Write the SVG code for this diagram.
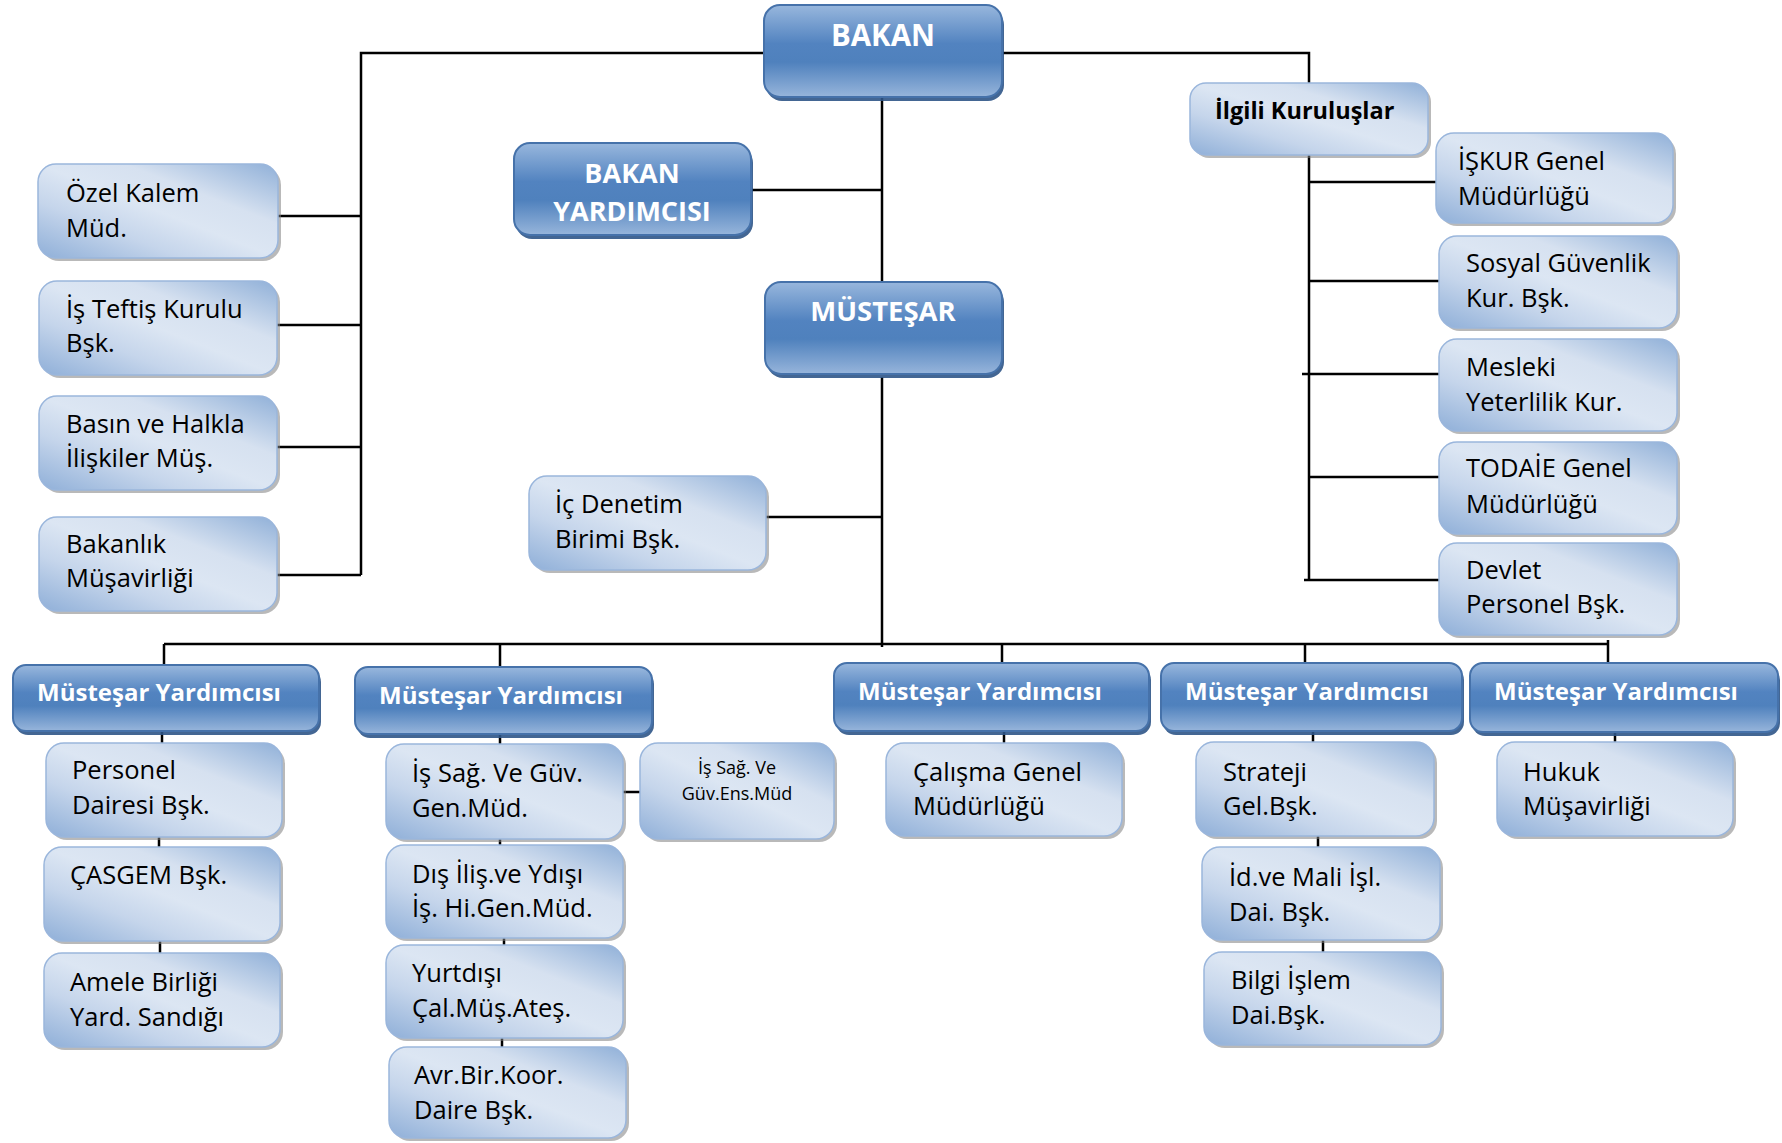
<svg xmlns="http://www.w3.org/2000/svg" width="1782" height="1143" viewBox="0 0 1782 1143">
<defs>
<linearGradient id="gl" x1="0" y1="1" x2="1" y2="0">
<stop offset="0" stop-color="#8fafd8"/>
<stop offset="0.3" stop-color="#c5d5eb"/>
<stop offset="0.5" stop-color="#dce6f3"/>
<stop offset="0.68" stop-color="#d6e1f0"/>
<stop offset="1" stop-color="#90b0d8"/>
</linearGradient>
<linearGradient id="gd" x1="0" y1="0" x2="0" y2="1">
<stop offset="0" stop-color="#98b7dd"/>
<stop offset="0.42" stop-color="#5283c0"/>
<stop offset="0.62" stop-color="#4f81bd"/>
<stop offset="1" stop-color="#97b5db"/>
</linearGradient>
<style>
.lb{fill:url(#gl);stroke:#9ab6dc;stroke-width:1.5}
.db{fill:url(#gd);stroke:#4672aa;stroke-width:2}
.sh{fill:#7f7f7f;opacity:.55}
.dsh{fill:#2f5587;opacity:.9}
.t{font-family:"Open Sans","DejaVu Sans",sans-serif;font-size:25.5px;fill:#000}
.ts{font-family:"Open Sans","DejaVu Sans",sans-serif;font-size:18px;fill:#000;text-anchor:middle}
.tb{font-family:"Open Sans","DejaVu Sans",sans-serif;font-size:23.5px;font-weight:bold;fill:#000}
.tw{font-family:"Open Sans","DejaVu Sans",sans-serif;font-weight:bold;fill:#fff;text-anchor:middle}
.c{stroke:#000;stroke-width:2.5;fill:none}
</style>
</defs>
<rect width="1782" height="1143" fill="#fff"/>
<g id="connectors" class="c">
<path d="M764,53 H361 V575"/>
<path d="M278,216 H361 M277,325 H361 M277,447 H361 M277,575 H361"/>
<path d="M1002,53 H1309 V83"/>
<path d="M1309,155 V580"/>
<path d="M1309,182 H1436 M1309,281 H1439 M1302,374 H1439 M1309,477 H1439 M1304,580 H1439"/>
<path d="M882,97 V282 M751,190 H882"/>
<path d="M882,377 V647 M766,517 H882"/>
<path d="M164,644 H1608"/>
<path d="M164,644 V665 M500,644 V667 M1002,644 V663 M1305,644 V663 M1608,640 V663"/>
<path d="M162,731 V743 M159,837 V847 M160,941 V953"/>
<path d="M500,734 V744 M623,792 H640 M500,839 V845 M504,938 V945 M502,1038 V1047"/>
<path d="M1004,731 V743"/>
<path d="M1313,731 V742 M1318,836 V847 M1323,940 V952"/>
<path d="M1615,732 V742"/>
</g>

<g id="bakan"><rect class="dsh" x="766" y="9" width="238" height="92" rx="16"/><rect class="db" x="764" y="5" width="238" height="92" rx="16"/><text class="tw" x="883" y="46" font-size="29.5">BAKAN</text></g>
<g id="bakan-yardimcisi"><rect class="dsh" x="516" y="147" width="237" height="92" rx="16"/><rect class="db" x="514" y="143" width="237" height="92" rx="16"/><text class="tw" x="632" y="183" font-size="27">BAKAN</text><text class="tw" x="632" y="221" font-size="27">YARDIMCISI</text></g>
<g id="mustesar"><rect class="dsh" x="767" y="286" width="237" height="92" rx="16"/><rect class="db" x="765" y="282" width="237" height="92" rx="16"/><text class="tw" x="883" y="321" font-size="27.5">MÜSTEŞAR</text></g>

<g id="my1"><rect class="dsh" x="15" y="669" width="306" height="66" rx="13"/><rect class="db" x="13" y="665" width="306" height="66" rx="13"/><text class="tw" x="159" y="701" font-size="24">Müsteşar Yardımcısı</text></g>
<g id="my2"><rect class="dsh" x="357" y="671" width="297" height="67" rx="13"/><rect class="db" x="355" y="667" width="297" height="67" rx="13"/><text class="tw" x="501" y="704" font-size="24">Müsteşar Yardımcısı</text></g>
<g id="my3"><rect class="dsh" x="836" y="667" width="315" height="68" rx="13"/><rect class="db" x="834" y="663" width="315" height="68" rx="13"/><text class="tw" x="980" y="700" font-size="24">Müsteşar Yardımcısı</text></g>
<g id="my4"><rect class="dsh" x="1163" y="667" width="301" height="68" rx="13"/><rect class="db" x="1161" y="663" width="301" height="68" rx="13"/><text class="tw" x="1307" y="700" font-size="24">Müsteşar Yardımcısı</text></g>
<g id="my5"><rect class="dsh" x="1472" y="667" width="308" height="69" rx="13"/><rect class="db" x="1470" y="663" width="308" height="69" rx="13"/><text class="tw" x="1616" y="700" font-size="24">Müsteşar Yardımcısı</text></g>

<g id="ozel-kalem"><rect class="sh" x="41" y="167" width="240" height="94" rx="18"/><rect class="lb" x="38" y="164" width="240" height="94" rx="18"/><text class="t" x="66" y="202">Özel Kalem</text><text class="t" x="66" y="237">Müd.</text></g>
<g id="is-teftis"><rect class="sh" x="42" y="284" width="238" height="94" rx="18"/><rect class="lb" x="39" y="281" width="238" height="94" rx="18"/><text class="t" x="66" y="318">İş Teftiş Kurulu</text><text class="t" x="66" y="352">Bşk.</text></g>
<g id="basin"><rect class="sh" x="42" y="399" width="238" height="94" rx="18"/><rect class="lb" x="39" y="396" width="238" height="94" rx="18"/><text class="t" x="66" y="433">Basın ve Halkla</text><text class="t" x="66" y="467">İlişkiler Müş.</text></g>
<g id="bakanlik-musavirligi"><rect class="sh" x="42" y="520" width="238" height="94" rx="18"/><rect class="lb" x="39" y="517" width="238" height="94" rx="18"/><text class="t" x="66" y="553">Bakanlık</text><text class="t" x="66" y="587">Müşavirliği</text></g>
<g id="ic-denetim"><rect class="sh" x="532" y="479" width="237" height="94" rx="18"/><rect class="lb" x="529" y="476" width="237" height="94" rx="18"/><text class="t" x="555" y="513">İç Denetim</text><text class="t" x="555" y="548">Birimi Bşk.</text></g>

<g id="ilgili-kuruluslar"><rect class="sh" x="1193" y="86" width="238" height="72" rx="16"/><rect class="lb" x="1190" y="83" width="238" height="72" rx="16"/><text class="tb" x="1215" y="119">İlgili Kuruluşlar</text></g>
<g id="iskur"><rect class="sh" x="1439" y="136" width="237" height="90" rx="18"/><rect class="lb" x="1436" y="133" width="237" height="90" rx="18"/><text class="t" x="1458" y="170">İŞKUR Genel</text><text class="t" x="1458" y="205">Müdürlüğü</text></g>
<g id="sgk"><rect class="sh" x="1442" y="239" width="238" height="92" rx="18"/><rect class="lb" x="1439" y="236" width="238" height="92" rx="18"/><text class="t" x="1466" y="272">Sosyal Güvenlik</text><text class="t" x="1466" y="307">Kur. Bşk.</text></g>
<g id="myk"><rect class="sh" x="1442" y="342" width="238" height="92" rx="18"/><rect class="lb" x="1439" y="339" width="238" height="92" rx="18"/><text class="t" x="1466" y="376">Mesleki</text><text class="t" x="1466" y="411">Yeterlilik Kur.</text></g>
<g id="todaie"><rect class="sh" x="1442" y="445" width="238" height="92" rx="18"/><rect class="lb" x="1439" y="442" width="238" height="92" rx="18"/><text class="t" x="1466" y="477">TODAİE Genel</text><text class="t" x="1466" y="513">Müdürlüğü</text></g>
<g id="dpb"><rect class="sh" x="1442" y="546" width="238" height="92" rx="18"/><rect class="lb" x="1439" y="543" width="238" height="92" rx="18"/><text class="t" x="1466" y="579">Devlet</text><text class="t" x="1466" y="613">Personel Bşk.</text></g>

<g id="personel"><rect class="sh" x="49" y="746" width="236" height="94" rx="18"/><rect class="lb" x="46" y="743" width="236" height="94" rx="18"/><text class="t" x="72" y="779">Personel</text><text class="t" x="72" y="814">Dairesi Bşk.</text></g>
<g id="casgem"><rect class="sh" x="47" y="850" width="236" height="94" rx="18"/><rect class="lb" x="44" y="847" width="236" height="94" rx="18"/><text class="t" x="70" y="884">ÇASGEM Bşk.</text></g>
<g id="amele"><rect class="sh" x="47" y="956" width="236" height="94" rx="18"/><rect class="lb" x="44" y="953" width="236" height="94" rx="18"/><text class="t" x="70" y="991">Amele Birliği</text><text class="t" x="70" y="1026">Yard. Sandığı</text></g>

<g id="isgm"><rect class="sh" x="389" y="747" width="237" height="95" rx="18"/><rect class="lb" x="386" y="744" width="237" height="95" rx="18"/><text class="t" x="412" y="782">İş Sağ. Ve Güv.</text><text class="t" x="412" y="817">Gen.Müd.</text></g>
<g id="isg-ens"><rect class="sh" x="643" y="746" width="194" height="96" rx="18"/><rect class="lb" x="640" y="743" width="194" height="96" rx="18"/><text class="ts" x="737" y="774">İş Sağ. Ve</text><text class="ts" x="737" y="800">Güv.Ens.Müd</text></g>
<g id="dis-iliskiler"><rect class="sh" x="389" y="848" width="237" height="93" rx="18"/><rect class="lb" x="386" y="845" width="237" height="93" rx="18"/><text class="t" x="412" y="883">Dış İliş.ve Ydışı</text><text class="t" x="412" y="917">İş. Hi.Gen.Müd.</text></g>
<g id="yurtdisi"><rect class="sh" x="389" y="948" width="237" height="93" rx="18"/><rect class="lb" x="386" y="945" width="237" height="93" rx="18"/><text class="t" x="412" y="982">Yurtdışı</text><text class="t" x="412" y="1017">Çal.Müş.Ateş.</text></g>
<g id="avrupa-birligi"><rect class="sh" x="392" y="1050" width="237" height="91" rx="18"/><rect class="lb" x="389" y="1047" width="237" height="91" rx="18"/><text class="t" x="414" y="1084">Avr.Bir.Koor.</text><text class="t" x="414" y="1119">Daire Bşk.</text></g>

<g id="calisma"><rect class="sh" x="889" y="746" width="236" height="93" rx="18"/><rect class="lb" x="886" y="743" width="236" height="93" rx="18"/><text class="t" x="913" y="781">Çalışma Genel</text><text class="t" x="913" y="815">Müdürlüğü</text></g>

<g id="strateji"><rect class="sh" x="1199" y="745" width="238" height="94" rx="18"/><rect class="lb" x="1196" y="742" width="238" height="94" rx="18"/><text class="t" x="1223" y="781">Strateji</text><text class="t" x="1223" y="815">Gel.Bşk.</text></g>
<g id="idari-mali"><rect class="sh" x="1205" y="850" width="238" height="93" rx="18"/><rect class="lb" x="1202" y="847" width="238" height="93" rx="18"/><text class="t" x="1229" y="886">İd.ve Mali İşl.</text><text class="t" x="1229" y="921">Dai. Bşk.</text></g>
<g id="bilgi-islem"><rect class="sh" x="1207" y="955" width="237" height="93" rx="18"/><rect class="lb" x="1204" y="952" width="237" height="93" rx="18"/><text class="t" x="1231" y="989">Bilgi İşlem</text><text class="t" x="1231" y="1024">Dai.Bşk.</text></g>

<g id="hukuk"><rect class="sh" x="1500" y="745" width="236" height="94" rx="18"/><rect class="lb" x="1497" y="742" width="236" height="94" rx="18"/><text class="t" x="1523" y="781">Hukuk</text><text class="t" x="1523" y="815">Müşavirliği</text></g>
</svg>
